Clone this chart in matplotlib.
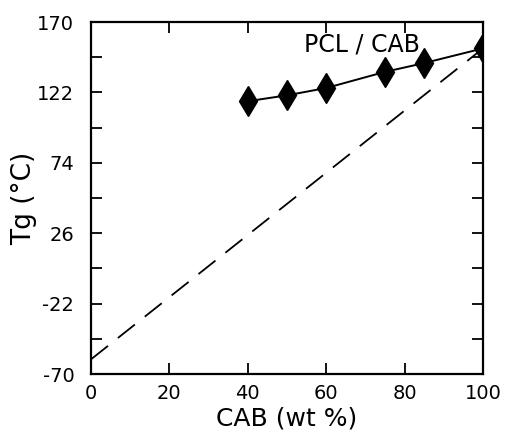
import matplotlib
matplotlib.use("Agg")
import matplotlib.pyplot as plt
import numpy as np

plt.rcParams['font.family'] = ['DejaVu Sans']
plt.rcParams['axes.unicode_minus'] = False

cab = [40, 50, 60, 75, 85, 100]
tg = [116, 120, 125, 136, 142, 152]
dash_x = [0, 100]
dash_y = [-60, 152]
xticks = [0, 20, 40, 60, 80, 100]
yticks = [-70, -22, 26, 74, 122, 170]
yminor = [-46, 2, 50, 98, 146]

fig = plt.figure(figsize=(5.06, 4.42), dpi=100)
ax = fig.add_axes([91/506, 1-374/442, (483-91)/506, (374-22)/442])

ax.plot(dash_x, dash_y, color='black', lw=1.3, dashes=(12, 7))
ax.plot(cab, tg, color='black', lw=1.4)
ax.plot(cab, tg, linestyle='none', marker='d', color='black', markersize=15)

ax.set_xlim(0, 100)
ax.set_ylim(-70, 170)
ax.set_xticks(xticks)
ax.set_yticks(yticks)
ax.set_yticks(yminor, minor=True)
ax.tick_params(direction='in', top=True, right=True, length=8, width=1.3, labelsize=14)
ax.tick_params(axis='x', pad=7)
ax.tick_params(axis='y', pad=12)
ax.tick_params(which='minor', direction='in', right=True, length=8, width=1.3)
for s in ax.spines.values():
    s.set_linewidth(1.6)

ax.text(69, 155, 'PCL / CAB', fontsize=17, ha='center', va='center')
ax.set_xlabel('CAB (wt %)', fontsize=18, labelpad=3)
ax.set_ylabel('Tg (°C)', fontsize=19, labelpad=0)

fig.savefig('out.png', dpi=100)
